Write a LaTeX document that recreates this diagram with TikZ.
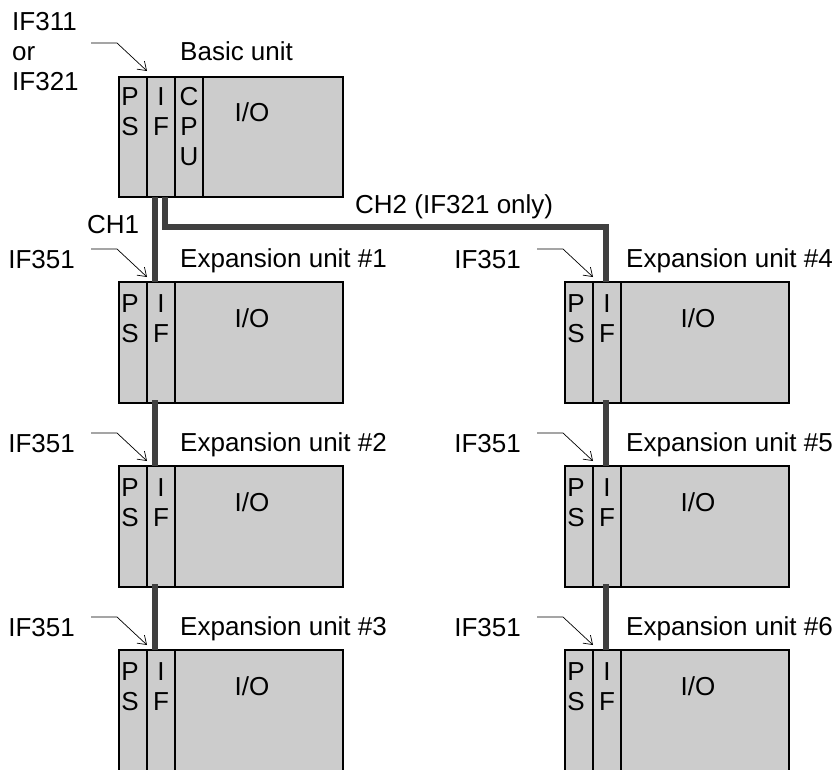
\documentclass[tikz,border=0pt]{standalone}
\usepackage{fontspec}
\setmainfont{Liberation Sans}
\usetikzlibrary{arrows.meta,calc}

\tikzset{
  slotbox/.style={draw, fill=black!20, line width=1.2pt, inner sep=0pt, outer sep=0pt,
    anchor=north west, minimum height=121pt},
  letters/.style={align=center, inner sep=0pt, anchor=north, font=\fontsize{26}{30}\selectfont},
  lbl/.style={inner sep=0pt, font=\fontsize{26}{30}\selectfont},
  cable/.style={line width=5.5pt, draw=black!75},
  pointer/.style={line width=0.7pt, -{Straight Barb[length=8pt,width=11pt]}}
}

\begin{document}
\begin{tikzpicture}[x=1pt, y=-1pt]
    \useasboundingbox (0,0) rectangle (838,769);

    % basic unit: PS | IF | CPU | I/O
    \node[slotbox, minimum width=28pt, minimum height=120pt] (bps) at (119,77) {};
    \node[slotbox, minimum width=28pt, minimum height=120pt] (bif) at (bps.north east) {};
    \node[slotbox, minimum width=28pt, minimum height=120pt] (bcpu) at (bif.north east) {};
    \node[slotbox, minimum width=140pt, minimum height=120pt] (bio) at (bcpu.north east) {};
    \node[letters] at ([xshift=-3pt,yshift=-10pt]bps.north) {P\\S};
    \node[letters] at ([yshift=-10pt]bif.north) {I\\F};
    \node[letters] at ([yshift=-10pt]bcpu.north) {C\\P\\U};
    \node[letters] (bioname) at (252,102) {I/O};
    \node[lbl, anchor=base west] (bname) at (180,60) {Basic unit};

    % which IF card sits in the basic unit
    \node[lbl, align=left, anchor=north west] (bcard) at (12,12) {IF311\\or\\IF321};
    \coordinate (btip) at ([yshift=6pt]bps.north east);
    \draw[pointer] (btip) ++(-56,-28) -- ++(26,0) -- (btip);

    % expansion units #1..#6
    \foreach \n/\x/\y in {1/119/282, 2/119/466, 3/119/650, 4/565/282, 5/565/466, 6/565/650} {
      \node[slotbox, minimum width=28pt] (ps\n) at (\x,\y) {};
      \node[slotbox, minimum width=28pt] (if\n) at (ps\n.north east) {};
      \node[slotbox, minimum width=168pt] (io\n) at (if\n.north east) {};
      \node[letters] at ([xshift=-3pt,yshift=-12pt]ps\n.north) {P\\S};
      \node[letters] at ([yshift=-12pt]if\n.north) {I\\F};
      \node[letters] at ($(\x,\y)+(133,26)$) {I/O};
      \node[lbl, anchor=base west] (name\n) at ($(\x,\y)+(61,-15)$) {Expansion unit \#\n};
      \node[lbl, anchor=base east] (card\n) at ($(\x,\y)+(-44,-14)$) {IF351};
      \coordinate (tip\n) at ([yshift=5pt]ps\n.north east);
      \draw[pointer] (tip\n) ++(-56,-28) -- ++(26,0) -- (tip\n);
    }

    % CH1 down the left column
    \draw[cable] ([xshift=8pt]bif.south west) -- ([xshift=8pt]if1.north west);
    \draw[cable] ([xshift=8pt,yshift=3pt]if1.south west) -- ([xshift=8pt]if2.north west);
    \draw[cable] ([xshift=8pt,yshift=3pt]if2.south west) -- ([xshift=8pt]if3.north west);
    \node[lbl, anchor=base west] (ch1) at (87,233) {CH1};

    % CH2 over to the right column
    \draw[cable] ([xshift=18pt]bif.south west) -- ++(0,30) -| ([xshift=13pt]if4.north west);
    \draw[cable] ([xshift=13pt,yshift=3pt]if4.south west) -- ([xshift=13pt]if5.north west);
    \draw[cable] ([xshift=13pt,yshift=3pt]if5.south west) -- ([xshift=13pt]if6.north west);
    \node[lbl, anchor=base west] (ch2) at (355,213) {CH2 (IF321 only)};
\end{tikzpicture}
\end{document}
